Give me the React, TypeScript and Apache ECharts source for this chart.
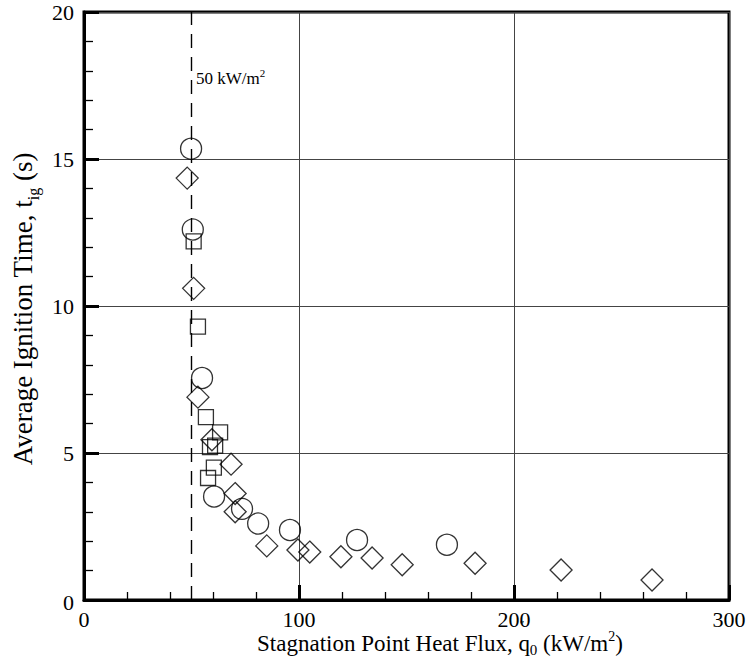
import React, { useEffect, useRef } from "react";
import * as echarts from "echarts";

const circlesX = [49.8, 50.6, 54.9, 60.5, 73.5, 81, 95.8, 127, 168.8];
const circlesY = [15.35, 12.6, 7.55, 3.52, 3.1, 2.6, 2.38, 2.04, 1.88];

const diamondsX = [48, 51, 53, 59.5, 68.4, 70.3, 70.3, 85, 99.5, 105, 119.5, 134, 148, 181.9, 221.9, 264.2];
const diamondsY = [14.35, 10.6, 6.9, 5.45, 4.62, 3.62, 3.0, 1.84, 1.7, 1.63, 1.47, 1.43, 1.2, 1.25, 1.02, 0.68];

const squaresX = [51, 53, 56.7, 63.3, 58.6, 61, 60.4, 57.7];
const squaresY = [12.2, 9.3, 6.22, 5.7, 5.2, 5.25, 4.5, 4.15];

const refFlux = 50;
const xTicks = [0, 100, 200, 300];
const yTicks = [0, 5, 10, 15, 20];

const FONT = "Liberation Serif";

const zip = (xs: number[], ys: number[]) => xs.map((x, i) => [x, ys[i]]);

export default function App() {
  const ref = useRef<HTMLDivElement>(null);
  useEffect(() => {
    if (!ref.current) return;
    const chart = echarts.init(ref.current, undefined, { renderer: "svg" });
    const markerStyle = { color: "transparent", borderColor: "#000", borderWidth: 1.3 };
    const staticGraphics: any[] = [
      {
        type: "text",
        x: 196,
        y: 78,
        style: {
          text: "{a|50 kW/m}{sup|2}",
          textVerticalAlign: "middle",
          rich: {
            a: { fontFamily: FONT, fontSize: 17, fill: "#000", lineHeight: 22 },
            sup: { fontFamily: FONT, fontSize: 11, fill: "#000", verticalAlign: "top", lineHeight: 11 },
          },
        },
      },
      {
        type: "text",
        x: 23,
        y: 309,
        rotation: Math.PI / 2,
        style: {
          text: "{a|Average Ignition Time, t}{sub|ig}{a| (s)}",
          textAlign: "center",
          textVerticalAlign: "middle",
          rich: {
            a: { fontFamily: FONT, fontSize: 27, fill: "#000", lineHeight: 36 },
            sub: { fontFamily: FONT, fontSize: 16, fill: "#000", verticalAlign: "bottom", lineHeight: 16 },
          },
        },
      },
      {
        type: "text",
        x: 440,
        y: 643,
        style: {
          text: "{a|Stagnation Point Heat Flux, q}{sub|0}{a| (kW/m}{sup|2}{a|)}",
          textAlign: "center",
          textVerticalAlign: "middle",
          rich: {
            a: { fontFamily: FONT, fontSize: 23, fill: "#000", lineHeight: 28 },
            sub: { fontFamily: FONT, fontSize: 15, fill: "#000", verticalAlign: "bottom", lineHeight: 15 },
            sup: { fontFamily: FONT, fontSize: 14, fill: "#000", verticalAlign: "top", lineHeight: 14 },
          },
        },
      },
      {
        type: "text",
        x: 522,
        y: 624,
        style: {
          text: "{a|\u2033}",
          textAlign: "center",
          textVerticalAlign: "middle",
          rich: { a: { fontFamily: FONT, fontSize: 11, fill: "#000" } },
        },
      },
    ];
    chart.setOption({
      animation: false,
      backgroundColor: "#fff",
      textStyle: { fontFamily: FONT },
      grid: { left: 84, top: 12, right: 19, bottom: 63, show: true, borderColor: "#000", borderWidth: 3, backgroundColor: "transparent" },
      xAxis: {
        type: "value",
        min: xTicks[0],
        max: xTicks[xTicks.length - 1],
        interval: 100,
        axisLine: { show: true, lineStyle: { color: "#000", width: 3 } },
        axisTick: { show: true, inside: true, length: 15, lineStyle: { color: "#000", width: 3 } },
        minorTick: { show: true, splitNumber: 5, length: 8, lineStyle: { color: "#000", width: 1.3 } },
        splitLine: { show: true, lineStyle: { color: "#444", width: 1 } },
        axisLabel: { show: false },
      },
      yAxis: {
        type: "value",
        min: yTicks[0],
        max: yTicks[yTicks.length - 1],
        interval: 5,
        axisLine: { show: true, lineStyle: { color: "#000", width: 3 } },
        axisTick: { show: true, inside: true, length: 15, lineStyle: { color: "#000", width: 3 } },
        minorTick: { show: true, splitNumber: 5, length: 9, lineStyle: { color: "#000", width: 1.3 } },
        splitLine: { show: true, lineStyle: { color: "#444", width: 1 } },
        axisLabel: { show: false },
      },
      series: [
        {
          type: "line",
          data: [[refFlux, yTicks[0]], [refFlux, yTicks[yTicks.length - 1]]],
          showSymbol: false,
          symbol: "none",
          lineStyle: { color: "#000", width: 1.4, type: [14, 9] },
          z: 1,
        },
        {
          type: "scatter",
          data: zip(squaresX, squaresY),
          symbol: "rect",
          symbolSize: 15,
          itemStyle: markerStyle,
          z: 3,
        },
        {
          type: "scatter",
          data: zip(diamondsX, diamondsY),
          symbol: "diamond",
          symbolSize: 22,
          itemStyle: markerStyle,
          z: 3,
        },
        {
          type: "scatter",
          data: zip(circlesX, circlesY),
          symbol: "circle",
          symbolSize: 21,
          itemStyle: markerStyle,
          z: 3,
        },
      ],
      graphic: staticGraphics,
    });

    const tickRich = { a: { fontFamily: FONT, fontSize: 22, fill: "#000", lineHeight: 24 } };
    const tickGraphics: any[] = [];
    xTicks.forEach((v) => {
      const p = chart.convertToPixel({ gridIndex: 0 }, [v, yTicks[0]]) as number[];
      tickGraphics.push({
        type: "text",
        x: p[0],
        y: p[1] + 7,
        style: { text: `{a|${v}}`, textAlign: "center", textVerticalAlign: "top", rich: tickRich },
      });
    });
    yTicks.forEach((v) => {
      const p = chart.convertToPixel({ gridIndex: 0 }, [xTicks[0], v]) as number[];
      tickGraphics.push({
        type: "text",
        x: p[0] - 10,
        y: p[1] + (v === yTicks[0] ? 2 : 0),
        style: { text: `{a|${v}}`, textAlign: "right", textVerticalAlign: "middle", rich: tickRich },
      });
    });
    chart.setOption({ graphic: [...staticGraphics, ...tickGraphics] }, { replaceMerge: ["graphic"] });

    return () => chart.dispose();
  }, []);
  return <div ref={ref} style={{ position: "fixed", left: 0, top: 0, width: 748, height: 663 }} />;
}
